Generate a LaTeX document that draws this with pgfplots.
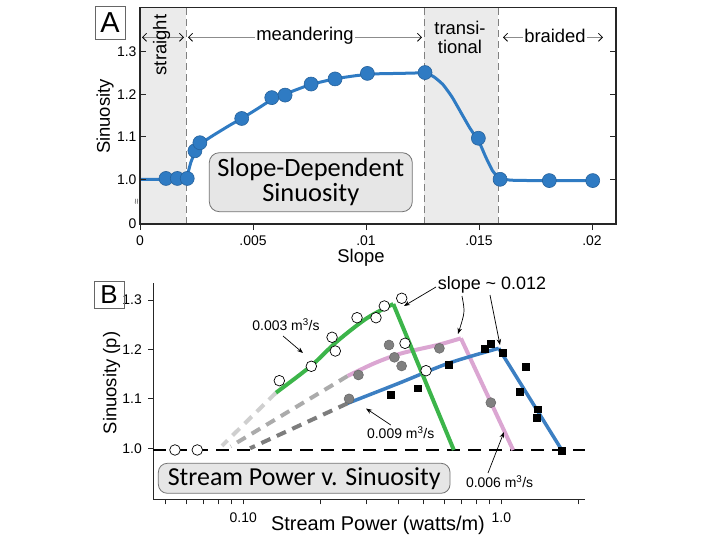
\documentclass[border=0pt]{standalone}
\usepackage{pgfplots}
\pgfplotsset{compat=1.18}
\usepackage{fontspec}
\setmainfont{Liberation Sans}
\newfontfamily\boxfont{Carlito}
\usetikzlibrary{arrows.meta}
\definecolor{ablue}{HTML}{2F7BC3}
\definecolor{bgreen}{HTML}{3CB54A}
\definecolor{bpink}{HTML}{DBA6D2}
\definecolor{bblue}{HTML}{3C7FC2}
\definecolor{shade}{HTML}{EBEBEB}
\definecolor{boxfill}{HTML}{E6E6E6}
\definecolor{dlight}{HTML}{CFCFCF}
\definecolor{dmed}{HTML}{ABABAB}
\definecolor{ddark}{HTML}{7D7D7D}
\definecolor{gcirc}{HTML}{808080}
\newcommand\fs[1]{\fontsize{#1}{#1}\selectfont}
\begin{document}
\begin{tikzpicture}
\path[use as bounding box] (0,0) rectangle (720bp,-540bp);
% ---------------- Panel A
\begin{axis}[
 at={(140bp,-224bp)}, anchor=south west, scale only axis,
 width=476bp, height=216.7bp,
 xmin=0, xmax=21.06, ymin=0.8949, ymax=1.4044,
 xtick={0,5,10,15,20}, xticklabels={0,.005,.01,.015,.02},
 ytick={0.8949,1.0,1.1,1.2,1.3}, yticklabels={0,1.0,1.1,1.2,1.3},
 xtick pos=left, ytick pos=both, yticklabel pos=left,
 xtick align=outside, ytick align=inside,
 major tick length=6bp,
 axis line style={line width=1.1bp, black!85},
 tick style={line width=1bp, black!85},
 ticklabel style={font=\fs{14}},
 xticklabel style={yshift=-2bp},
 /pgf/number format/assume math mode=true,
 axis on top,
]
\addplot[draw=none, fill=shade] coordinates {(0,0.8949)(2.04,0.8949)(2.04,1.4044)(0,1.4044)} -- cycle;
\addplot[draw=none, fill=shade] coordinates {(12.57,0.8949)(15.85,0.8949)(15.85,1.4044)(12.57,1.4044)} -- cycle;
\addplot[black!50, line width=0.9bp, dash pattern=on 7bp off 4bp] coordinates {(2.04,0.8949)(2.04,1.4044)};
\addplot[black!50, line width=0.9bp, dash pattern=on 7bp off 4bp] coordinates {(12.57,0.8949)(12.57,1.4044)};
\addplot[black!50, line width=0.9bp, dash pattern=on 7bp off 4bp] coordinates {(15.85,0.8949)(15.85,1.4044)};
\addplot[ablue, line width=3bp, smooth, tension=0.3] coordinates {
(0,1.0)(1.0,1.0)(1.8,1.0)(2.05,1.003)(2.25,1.04)(2.45,1.065)(2.7,1.084)(3.2,1.102)
(4.0,1.128)(4.5,1.143)(5.2,1.166)(5.85,1.188)(6.4,1.2)(7.5,1.222)(8.6,1.236)(9.6,1.244)
(10.5,1.248)(11.5,1.249)(12.6,1.25)(13.0,1.241)(13.4,1.223)(13.8,1.194)(14.2,1.157)
(14.6,1.12)(15.0,1.088)(15.3,1.052)(15.6,1.02)(15.9,1.003)(16.4,0.998)(17.5,0.997)(20.2,0.997)};
\addplot[only marks, mark=*, mark size=7bp, mark options={fill=ablue, draw=ablue!80!black, line width=0.6bp}] coordinates {
(1.15,1.002)(1.65,1.002)(2.09,1.002)(2.43,1.067)(2.65,1.086)(4.5,1.143)(5.83,1.192)(6.42,1.198)
(7.57,1.224)(8.63,1.236)(10.06,1.249)(12.61,1.251)(14.97,1.0965)(15.93,1.0)(18.11,0.997)(20.03,0.997)};
\end{axis}
% ---------------- Panel B
\begin{axis}[
 at={(153.3bp,-499.3bp)}, anchor=south west, scale only axis,
 width=431.7bp, height=216.3bp,
 xmode=log, xmin=0.04479, xmax=2.11, ymin=0.8968, ymax=1.3344,
 axis x line*=bottom, axis y line*=left,
 xtick={0.1,1}, xticklabels={0.10,1.0},
 minor xtick={0.05,0.06,0.07,0.08,0.09,0.2,0.3,0.4,0.5,0.6,0.7,0.8,0.9,2},
 ytick={1.0,1.1,1.2,1.3}, yticklabels={1.0,1.1,1.2,1.3},
 tick align=outside, major tick length=5bp, minor tick length=5bp,
 axis line style={line width=1.1bp, black!85},
 tick style={line width=1bp, black!85},
 ticklabel style={font=\fs{14}},
 xticklabel style={yshift=-5bp},
 yticklabel style={xshift=-3bp},
 /pgf/number format/assume math mode=true,
 clip=false,
]
% dashed extrapolations
\addplot[dlight, line width=4bp, dash pattern=on 10bp off 7bp] coordinates {(0.1339,1.1125)(0.0827,1.005)};
\addplot[dmed, line width=4bp, dash pattern=on 10bp off 7bp] coordinates {(0.2537,1.1463)(0.0894,1.004)};
\addplot[ddark, line width=4bp, dash pattern=on 10bp off 7bp] coordinates {(0.2537,1.091)(0.1062,1.0)};
% y = 1 line
\addplot[black, line width=2bp, dash pattern=on 13bp off 8bp] coordinates {(0.04479,0.9966)(2.11,0.9966)};
% pink
\addplot[bpink, line width=4bp, smooth] coordinates {(0.2537,1.1463)(0.3239,1.1726)(0.4107,1.1922)(0.5664,1.209)(0.6972,1.2225)};
\addplot[bpink, line width=4bp] coordinates {(0.6972,1.2225)(1.111,0.9966)};
% blue
\addplot[bblue, line width=3.5bp, smooth] coordinates {(0.2537,1.091)(0.4024,1.132)(0.6237,1.172)(0.977,1.2023)};
\addplot[bblue, line width=3.5bp] coordinates {(0.977,1.2023)(1.7144,0.9966)};
% green
\addplot[bgreen, line width=4bp, smooth] coordinates {(0.1339,1.1125)(0.1835,1.1671)(0.2301,1.2157)(0.3008,1.263)(0.3814,1.2919)};
\addplot[bgreen, line width=4bp] coordinates {(0.3814,1.2919)(0.6546,0.9966)};
% gray circles
\addplot[only marks, mark=*, mark size=5bp, mark options={fill=gcirc, draw=black!60, line width=0.5bp}] coordinates {
(0.257,1.1)(0.2794,1.1483)(0.3671,1.209)(0.3852,1.1841)(0.4108,1.1665)(0.5755,1.2023)(0.9106,1.0923)};
% black squares
\addplot[only marks, mark=square*, mark size=3.4bp, mark options={fill=black, draw=black}] coordinates {
(0.3731,1.1078)(0.4747,1.1214)(0.6237,1.1685)(0.8595,1.2009)(0.9106,1.2124)(1.0153,1.1934)
(1.2434,1.1651)(1.1775,1.1145)(1.3824,1.0789)(1.3689,1.0627)(1.7144,0.9945)};
% open circles
\addplot[only marks, mark=*, mark size=5.3bp, mark options={fill=white, draw=black, line width=0.7bp}] coordinates {
(0.05435,0.9966)(0.06633,0.9966)(0.1379,1.1368)(0.1835,1.1659)(0.2208,1.2246)(0.2273,1.1968)
(0.2759,1.2642)(0.3268,1.2642)(0.352,1.2879)(0.4111,1.3035)(0.4234,1.2124)(0.5107,1.157)};
\end{axis}
% ---------------- annotations
\begin{scope}[x=1bp, y=-1bp]
% panel A
\node[draw=black!60, line width=0.8bp, minimum width=30bp, minimum height=32.6bp, inner sep=0pt, font=\fs{29}] at (110,23) {A};
\draw[black!45, line width=0.8bp, {Straight Barb[length=4bp,width=8bp,black]}-{Straight Barb[length=4bp,width=8bp,black]}] (142,37.3) -- (184,37.3);
\node[rotate=90, font=\fs{18.5}, inner sep=1pt] at (161.7,45) {straight};
\draw[black!45, line width=0.8bp, {Straight Barb[length=4bp,width=8bp,black]}-{Straight Barb[length=4bp,width=8bp,black]}] (188,37.3) -- (422,37.3);
\node[fill=white, font=\fs{18.5}, inner sep=1.5pt] at (305,36) {meandering};
\node[align=center, font=\fontsize{18.5}{19}\selectfont] at (460,37) {transi-\\tional};
\draw[black!45, line width=0.8bp, {Straight Barb[length=4bp,width=8bp,black]}-{Straight Barb[length=4bp,width=8bp,black]}] (503,37.3) -- (603,37.3);
\node[fill=white, font=\fs{18.5}, inner sep=1.5pt] at (555,35.5) {braided};
\node[font=\fs{10}, rotate=90, text=black!70] at (137.5,201.7) {≈};
\node[rotate=90, font=\fs{18.5}] at (105,116.5) {Sinuosity};
\node[font=\fs{18.5}] at (361,258) {Slope};
\node[draw=black!55, fill=boxfill, line width=0.8bp, rounded corners=10bp, minimum width=203bp, minimum height=59bp, align=center, inner sep=0pt, font=\boxfont\fontsize{26.5}{25}\selectfont] at (310.8,182.2) {Slope-Dependent\\Sinuosity};
% panel B
\node[draw=black!60, line width=0.8bp, minimum width=30bp, minimum height=26.6bp, inner sep=0pt, font=\fs{26}] at (109,295) {B};
\node[rotate=90, font=\fs{18.5}] at (111.7,383) {Sinuosity (p)};
\node[font=\fs{20}] at (378,525.5) {Stream Power (watts/m)};
\node[draw=black!55, fill=boxfill, line width=0.8bp, rounded corners=9bp, minimum width=291.7bp, minimum height=30bp, inner sep=0pt, font=\boxfont\fs{26}] at (304.2,478.3) {Stream Power v. Sinuosity};
\node[font=\fs{14}] at (286,325) {0.003 m\textsuperscript{3}/s};
\draw[line width=0.7bp, -{Stealth[length=6bp,width=4.5bp]}] (283,336) -- (303,353);
\node[font=\fs{18}] at (492,285) {slope \textasciitilde\ 0.012};
\draw[line width=0.7bp, -{Stealth[length=6bp,width=4.5bp]}] (436,287) -- (404,306);
\draw[line width=0.7bp, -{Stealth[length=6bp,width=4.5bp]}] (462,296) .. controls (465,312) .. (458,334);
\draw[line width=0.7bp, -{Stealth[length=6bp,width=4.5bp]}] (490,295) -- (500,345);
\node[font=\fs{14}] at (400.7,433) {0.009 m\textsuperscript{3}/s};
\draw[line width=0.7bp, -{Stealth[length=6bp,width=4.5bp]}] (390.8,425) -- (366,408.5);
\node[font=\fs{14}] at (499.6,482) {0.006 m\textsuperscript{3}/s};
\draw[line width=0.7bp, -{Stealth[length=6bp,width=4.5bp]}] (488,473) -- (504,432);
\end{scope}
\end{tikzpicture}
\end{document}
